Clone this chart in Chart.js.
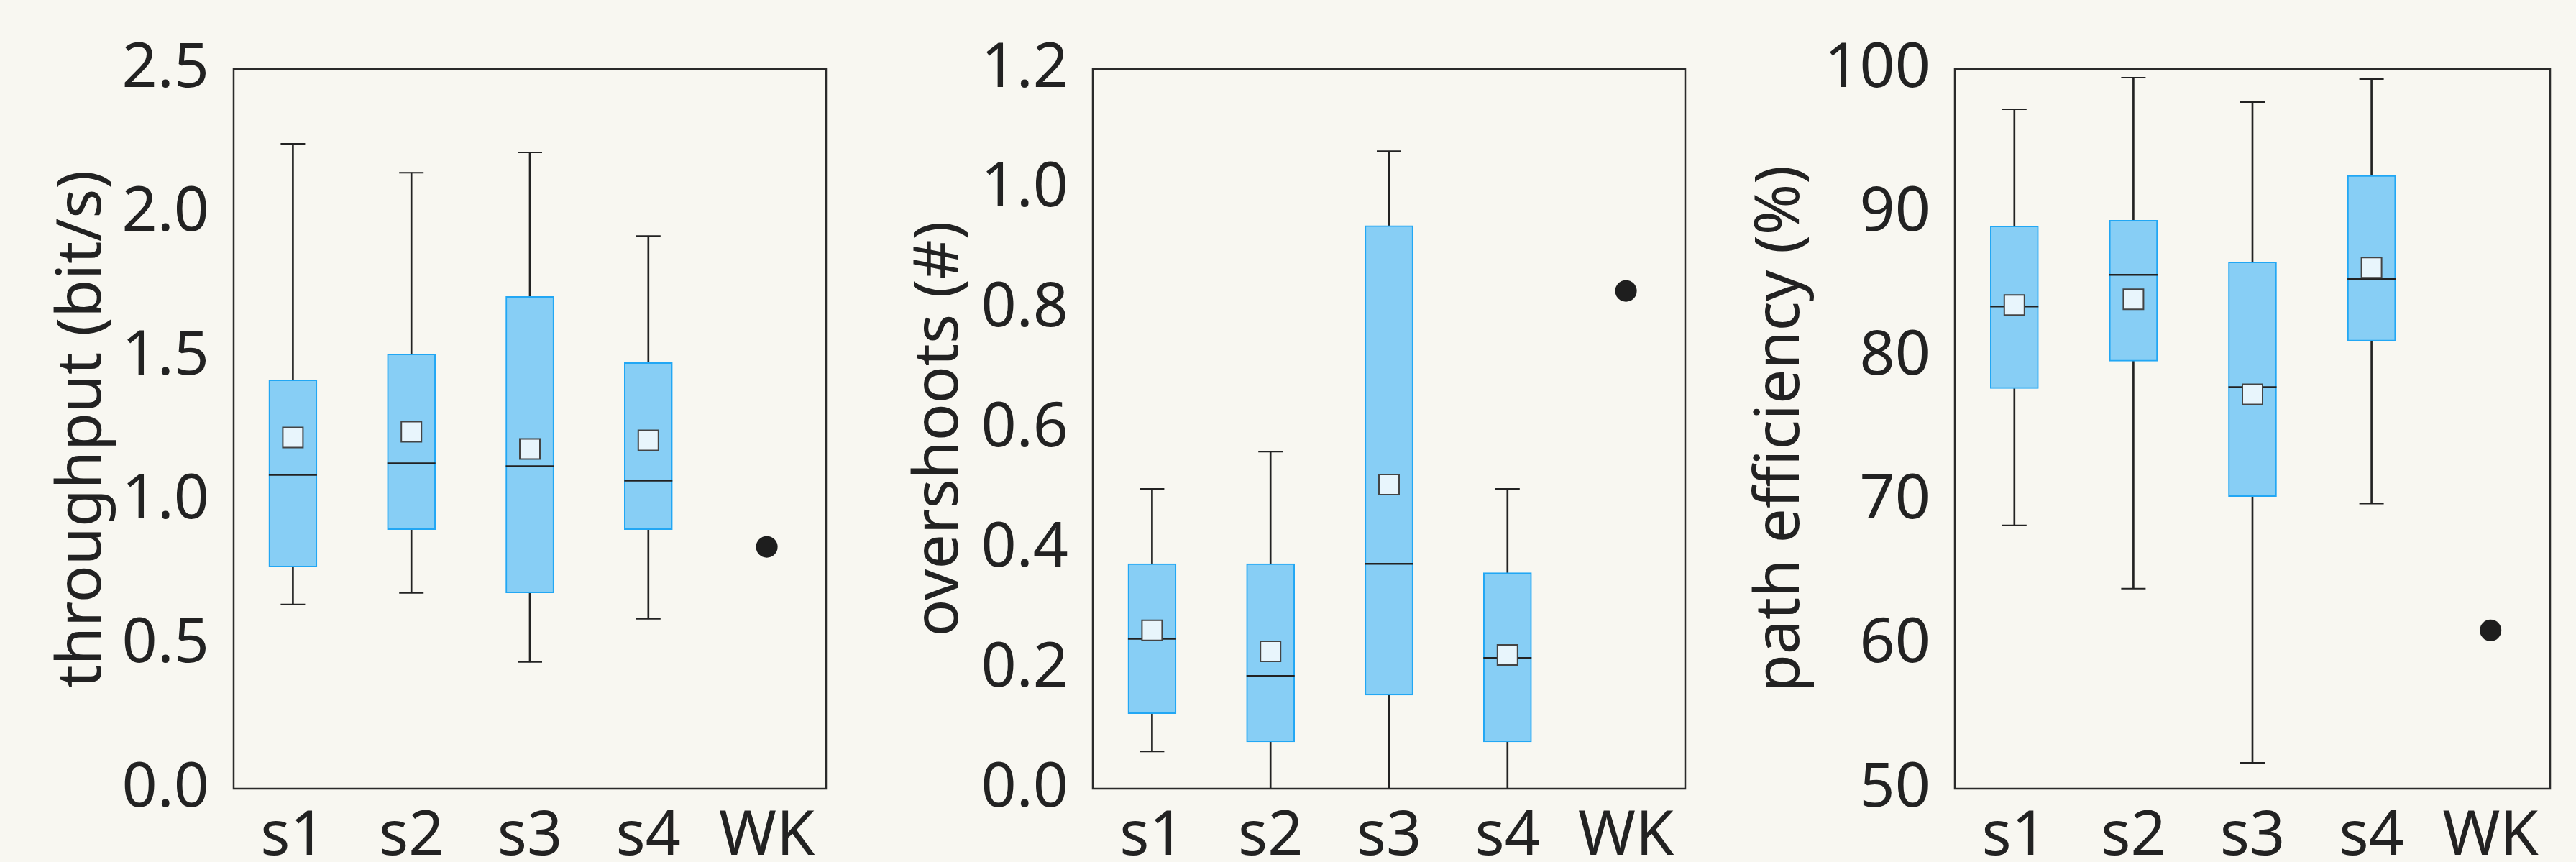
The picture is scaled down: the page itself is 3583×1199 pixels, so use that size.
<!DOCTYPE html>
<html>
<head>
<meta charset="utf-8">
<script src="https://cdn.jsdelivr.net/npm/chart.js@4.4.1/dist/chart.umd.min.js"></script>
<style>
  body { margin: 0; background: #f8f7f1; width: 3583px; height: 1199px; overflow: hidden; position: relative; }
  .panel { position: absolute; top: 0; height: 1199px; }
</style>
</head>
<body>
<div class="panel" style="left:0;width:1190px"><canvas id="c1"></canvas></div>
<div class="panel" style="left:1190px;width:1195px"><canvas id="c2"></canvas></div>
<div class="panel" style="left:2385px;width:1198px"><canvas id="c3"></canvas></div>
<script>
const categories = ['s1', 's2', 's3', 's4', 'WK'];

// throughput (bit/s)
const tpLow    = [0.64, 0.68, 0.44, 0.59, null];
const tpQ1     = [0.77, 0.90, 0.68, 0.90, null];
const tpMedian = [1.09, 1.13, 1.12, 1.07, null];
const tpQ3     = [1.42, 1.51, 1.71, 1.48, null];
const tpHigh   = [2.24, 2.14, 2.21, 1.92, null];
const tpMean   = [1.22, 1.24, 1.18, 1.21, null];
const tpWK     = [null, null, null, null, 0.84];
const tpTicks  = [0, 0.5, 1.0, 1.5, 2.0, 2.5];

// overshoots (#)
const osLow    = [0.062, 0, 0, 0, null];
const osQ1     = [0.125, 0.078, 0.156, 0.078, null];
const osMedian = [0.25, 0.188, 0.375, 0.218, null];
const osQ3     = [0.375, 0.375, 0.939, 0.36, null];
const osHigh   = [0.50, 0.562, 1.063, 0.50, null];
const osMean   = [0.264, 0.229, 0.507, 0.223, null];
const osWK     = [null, null, null, null, 0.83];
const osTicks  = [0, 0.2, 0.4, 0.6, 0.8, 1.0, 1.2];

// path efficiency (%)
const peLow    = [68.3, 63.9, 51.8, 69.8, null];
const peQ1     = [77.8, 79.7, 70.3, 81.1, null];
const peMedian = [83.5, 85.7, 77.9, 85.4, null];
const peQ3     = [89.1, 89.5, 86.6, 92.6, null];
const peHigh   = [97.2, 99.4, 97.7, 99.3, null];
const peMean   = [83.6, 84.0, 77.4, 86.2, null];
const peWK     = [null, null, null, null, 61.0];
const peTicks  = [50, 60, 70, 80, 90, 100];

Chart.defaults.font.family = "'Noto Sans', 'Open Sans', sans-serif";
Chart.defaults.color = '#222';

// frame around the plot area
const frame = {
  id: 'frame',
  afterDraw(chart) {
    const a = chart.chartArea, ctx = chart.ctx;
    ctx.save();
    ctx.strokeStyle = '#2a2a2a';
    ctx.lineWidth = 2.5;
    ctx.strokeRect(a.left, a.top, a.right - a.left, a.bottom - a.top);
    ctx.restore();
  }
};

function pairs(a, b) {
  return a.map((v, i) => v === null ? null : [v, b[i]]);
}

function makeChart(id, d) {
  new Chart(document.getElementById(id), {
    type: 'bar',
    data: {
      labels: categories,
      datasets: [
        { data: pairs(d.low, d.q1), backgroundColor: '#222', barThickness: 2, grouped: false, order: 6 },
        { data: pairs(d.q3, d.high), backgroundColor: '#222', barThickness: 2, grouped: false, order: 6 },
        { data: pairs(d.q1, d.q3), backgroundColor: '#87cef5', borderColor: '#22a7f4', borderWidth: 2,
          borderSkipped: false, barThickness: 67, grouped: false, order: 5 },
        { type: 'line', data: d.low, showLine: false, pointStyle: 'line', pointRadius: 17,
          pointBorderWidth: 2, pointBorderColor: '#222', order: 4 },
        { type: 'line', data: d.high, showLine: false, pointStyle: 'line', pointRadius: 17,
          pointBorderWidth: 2, pointBorderColor: '#222', order: 4 },
        { type: 'line', data: d.median, showLine: false, pointStyle: 'line', pointRadius: 33.5,
          pointBorderWidth: 2.5, pointBorderColor: '#222', order: 3 },
        { type: 'line', data: d.mean, showLine: false, pointStyle: 'rect', pointRadius: 19.8,
          pointBackgroundColor: '#e8f5fc', pointBorderColor: '#444', pointBorderWidth: 2, order: 2 },
        { type: 'line', data: d.wk, showLine: false, pointStyle: 'circle', pointRadius: 15,
          pointBackgroundColor: '#1e1e1e', pointBorderWidth: 0, order: 1 }
      ]
    },
    options: {
      responsive: true,
      maintainAspectRatio: false,
      animation: false,
      layout: { padding: { top: 96, right: d.padRight, left: 0, bottom: 0 } },
      plugins: { legend: { display: false }, tooltip: { enabled: false } },
      scales: {
        x: {
          grid: { display: false, drawTicks: false },
          border: { display: false },
          ticks: { font: { size: 86 }, padding: 16 },
          afterFit: s => { s.height = 102; }
        },
        y: {
          min: d.ticks[0],
          max: d.ticks[d.ticks.length - 1],
          grid: { display: false, drawTicks: false },
          border: { display: false },
          afterBuildTicks: s => { s.ticks = d.ticks.map(v => ({ value: v })); },
          ticks: { font: { size: 86 }, padding: 34, callback: v => v.toFixed(d.digits) },
          afterFit: s => { s.width = d.axisWidth; },
          title: { display: true, text: d.title, font: { size: 86, lineHeight: 1 },
                   padding: { top: d.titlePad, bottom: 0 } }
        }
      }
    },
    plugins: [frame]
  });
}

makeChart('c1', { low: tpLow, q1: tpQ1, median: tpMedian, q3: tpQ3, high: tpHigh, mean: tpMean, wk: tpWK,
  ticks: tpTicks, digits: 1, title: 'throughput (bit/s)', axisWidth: 325, padRight: 41, titlePad: 72 });
makeChart('c2', { low: osLow, q1: osQ1, median: osMedian, q3: osQ3, high: osHigh, mean: osMean, wk: osWK,
  ticks: osTicks, digits: 1, title: 'overshoots (#)', axisWidth: 330, padRight: 41, titlePad: 74 });
makeChart('c3', { low: peLow, q1: peQ1, median: peMedian, q3: peQ3, high: peHigh, mean: peMean, wk: peWK,
  ticks: peTicks, digits: 0, title: 'path efficiency (%)', axisWidth: 334, padRight: 29, titlePad: 49 });
</script>
</body>
</html>
